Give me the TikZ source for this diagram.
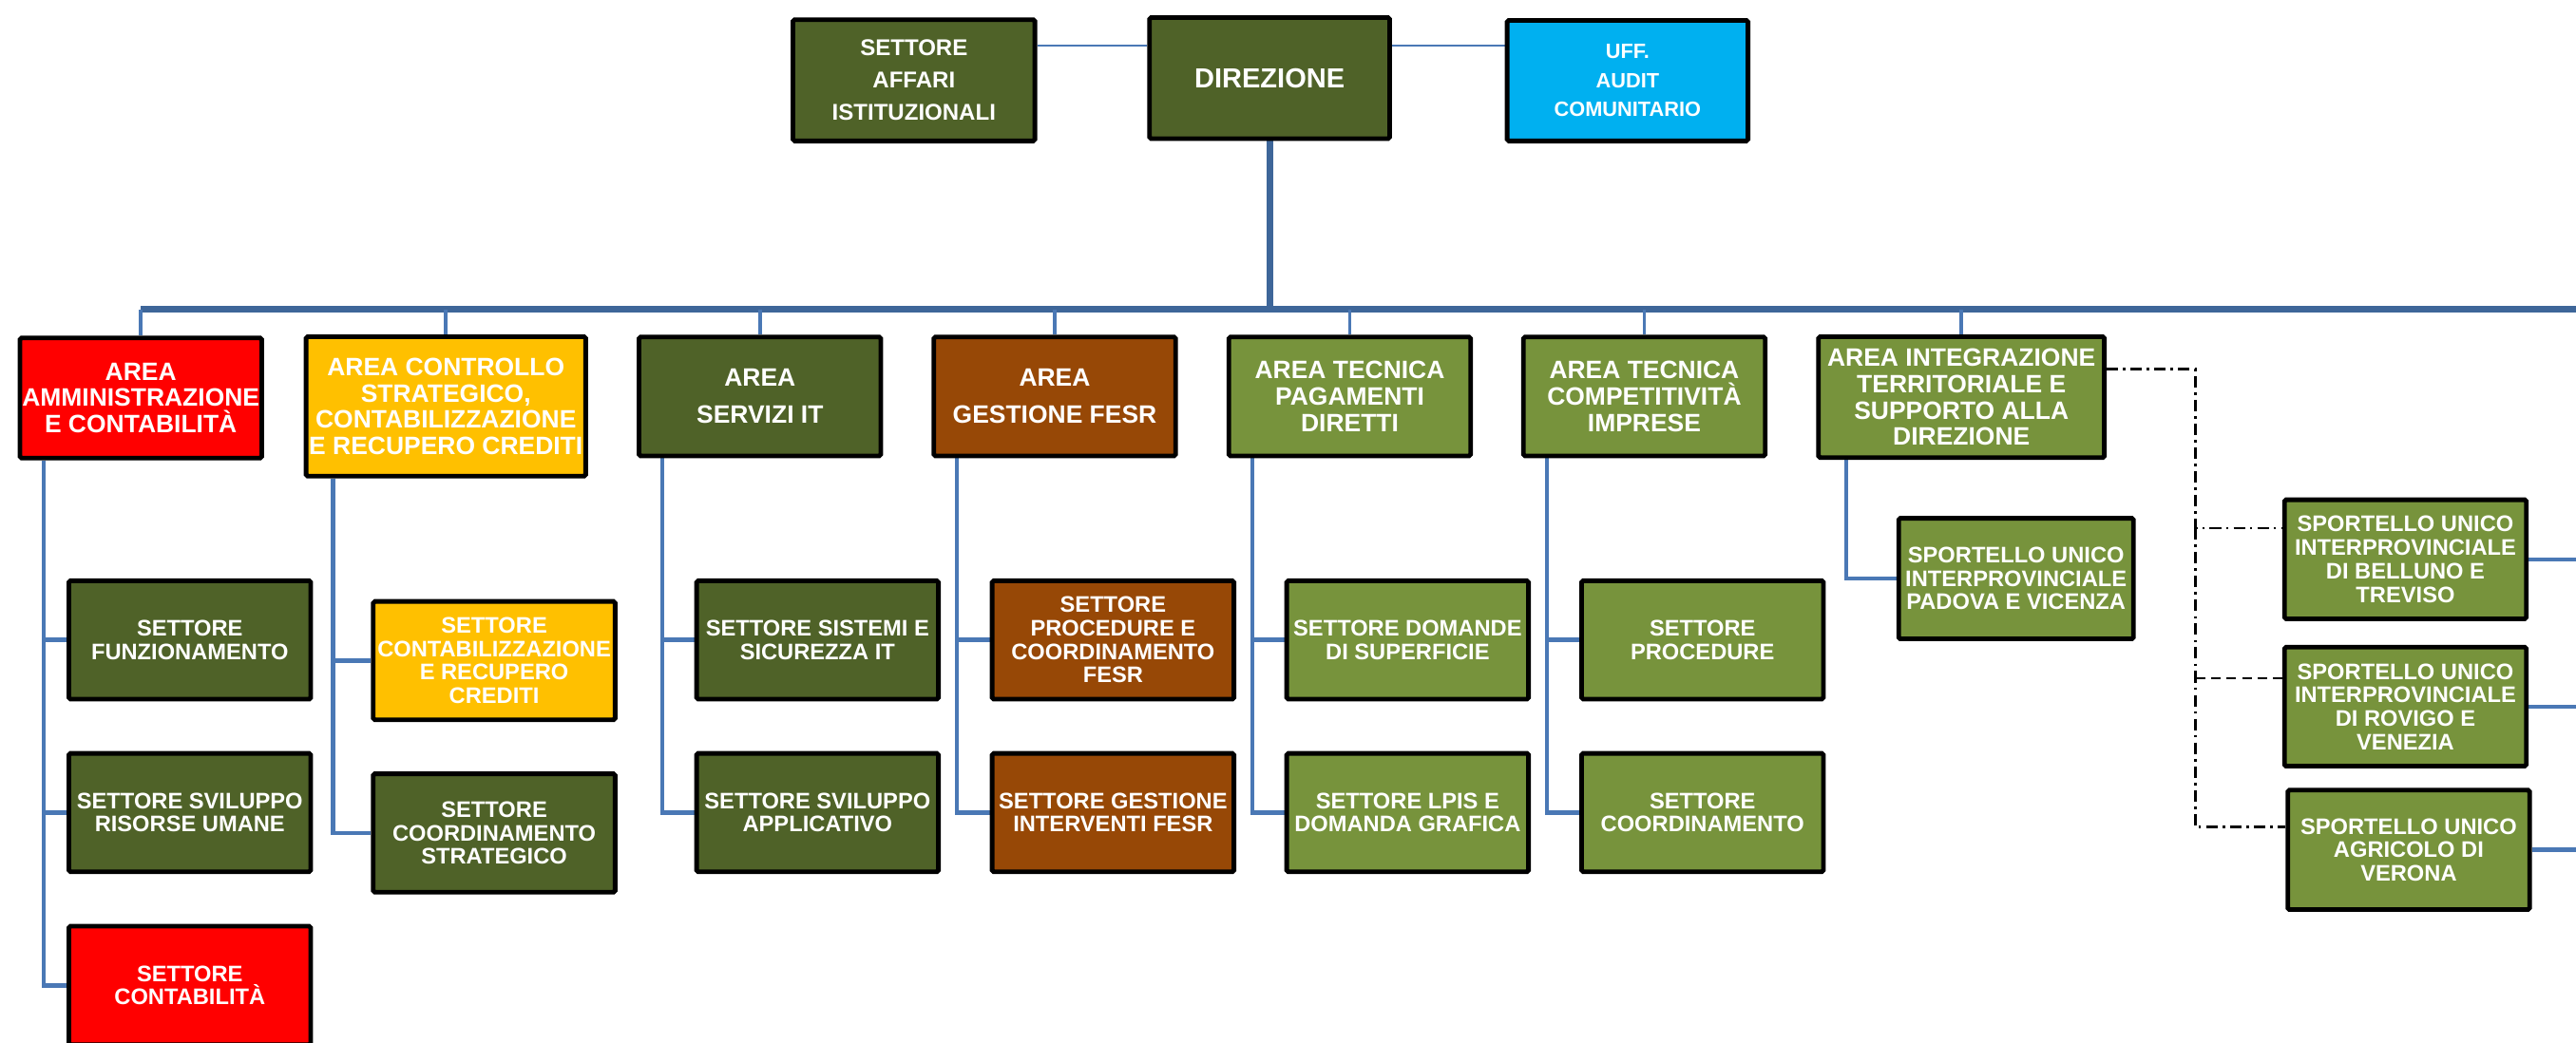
\documentclass[tikz,border=0pt]{standalone}
\usepackage{fontspec}
\setmainfont{Liberation Sans}
\usetikzlibrary{calc}
\pgfdeclarelayer{background}
\pgfsetlayers{background,main}
\definecolor{dkgreen}{HTML}{4F6228}
\definecolor{ltgreen}{HTML}{77933C}
\definecolor{redA}{HTML}{FF0000}
\definecolor{yelA}{HTML}{FFC000}
\definecolor{brnA}{HTML}{974806}
\definecolor{cyanA}{HTML}{00B0F0}
\definecolor{busc}{HTML}{3E6699}
\definecolor{brc}{HTML}{4A78B5}
\begin{document}
\begin{tikzpicture}[x=1pt,y=-1pt,
 box/.style={draw=black, line width=2.8pt, rounded corners=1pt, text=white, align=center, inner sep=0pt, minimum width=147.2pt, minimum height=72.4pt},
 afont/.style={font=\fontsize{15.3}{16.1}\selectfont\bfseries},
 sfont/.style={font=\fontsize{13.7}{14.3}\selectfont\bfseries},
 busline/.style={draw=busc, line width=4pt},
 dropline/.style={draw=brc, line width=2.2pt},
 brline/.style={draw=brc, line width=2.6pt, line join=miter},
 thinline/.style={draw=brc, line width=1.4pt},
 ddline/.style={draw=black, line width=1.5pt, dash pattern=on 7pt off 3pt on 1.5pt off 3pt},
 dashline/.style={draw=black, line width=1.5pt, dash pattern=on 6pt off 3.5pt},
 ]
\useasboundingbox (0,0) rectangle (1568,634.5);
\clip (0,0) rectangle (1568,634.5);

% top row
\node[box, fill=dkgreen, font=\fontsize{13.9}{19.7}\selectfont\bfseries, minimum height=73.8pt] (aff) at (556.3,48.9) {SETTORE\\AFFARI\\ISTITUZIONALI};
\node[box, fill=dkgreen, font=\fontsize{16.8}{20}\selectfont\bfseries, minimum width=146.2pt, minimum height=73.7pt] (dir) at (772.8,47.55) {DIREZIONE};
\node[box, fill=cyanA, font=\fontsize{12.6}{17.6}\selectfont\bfseries, minimum width=146.6pt, minimum height=73.4pt] (uff) at (990.7,49.1) {UFF.\\AUDIT\\COMUNITARIO};

% areas
\node[box, afont, fill=redA, minimum height=73.1pt] (amm) at (85.7,242.35) {AREA\\AMMINISTRAZIONE\\E CONTABILITÀ};
\node[box, afont, fill=yelA, minimum width=170.2pt, minimum height=84.9pt] (ctrl) at (271.4,247.45) {AREA CONTROLLO\\STRATEGICO,\\CONTABILIZZAZIONE\\E RECUPERO CREDITI};
\node[box, fill=dkgreen, font=\fontsize{15.3}{22.4}\selectfont\bfseries] (sit) at (462.6,241.4) {AREA\\SERVIZI IT};
\node[box, fill=brnA, font=\fontsize{15.3}{22.4}\selectfont\bfseries] (fesr) at (642,241.4) {AREA\\GESTIONE FESR};
\node[box, afont, fill=ltgreen] (pag) at (821.6,241.4) {AREA TECNICA\\PAGAMENTI\\DIRETTI};
\node[box, afont, fill=ltgreen] (comp) at (1000.85,241.4) {AREA TECNICA\\COMPETITIVITÀ\\IMPRESE};
\node[box, afont, fill=ltgreen, minimum width=174pt, minimum height=73.6pt] (integ) at (1193.9,241.8) {AREA INTEGRAZIONE\\TERRITORIALE E\\SUPPORTO ALLA\\DIREZIONE};

% settori
\node[box, sfont, fill=dkgreen, minimum height=72.1pt] (funz) at (115.55,389.65) {SETTORE\\FUNZIONAMENTO};
\node[box, sfont, fill=dkgreen, minimum height=72.1pt] (svil) at (115.55,494.75) {SETTORE SVILUPPO\\RISORSE UMANE};
\node[box, sfont, fill=redA, minimum height=72.1pt] (cont) at (115.55,600) {SETTORE\\CONTABILITÀ};
\node[box, sfont, fill=yelA, minimum height=72.1pt] (ycont) at (300.8,402.25) {SETTORE\\CONTABILIZZAZIONE\\E RECUPERO\\CREDITI};
\node[box, sfont, fill=dkgreen, minimum height=72.1pt] (ycoord) at (300.8,507.2) {SETTORE\\COORDINAMENTO\\STRATEGICO};
\node[box, sfont, fill=dkgreen, minimum height=72.1pt] (sis) at (497.6,389.65) {SETTORE SISTEMI E\\SICUREZZA IT};
\node[box, sfont, fill=dkgreen, minimum height=72.1pt] (sva) at (497.6,494.75) {SETTORE SVILUPPO\\APPLICATIVO};
\node[box, sfont, fill=brnA, minimum height=72.1pt] (proc) at (677.5,389.65) {SETTORE\\PROCEDURE E\\COORDINAMENTO\\FESR};
\node[box, sfont, fill=brnA, minimum height=72.1pt] (gint) at (677.5,494.75) {SETTORE GESTIONE\\INTERVENTI FESR};
\node[box, sfont, fill=ltgreen, minimum height=72.1pt] (dom) at (856.8,389.65) {SETTORE DOMANDE\\DI SUPERFICIE};
\node[box, sfont, fill=ltgreen, minimum height=72.1pt] (lpis) at (856.8,494.75) {SETTORE LPIS E\\DOMANDA GRAFICA};
\node[box, sfont, fill=ltgreen, minimum height=72.1pt] (sproc) at (1036.3,389.65) {SETTORE\\PROCEDURE};
\node[box, sfont, fill=ltgreen, minimum height=72.1pt] (scoord) at (1036.3,494.75) {SETTORE\\COORDINAMENTO};
\node[box, sfont, fill=ltgreen, minimum width=142.9pt, minimum height=73.4pt] (pad) at (1227.15,352.3) {SPORTELLO UNICO\\INTERPROVINCIALE\\PADOVA E VICENZA};
\node[box, sfont, fill=ltgreen, minimum height=72.5pt] (bell) at (1464.15,340.55) {SPORTELLO UNICO\\INTERPROVINCIALE\\DI BELLUNO E\\TREVISO};
\node[box, sfont, fill=ltgreen, minimum height=72.5pt] (rov) at (1464.15,430.25) {SPORTELLO UNICO\\INTERPROVINCIALE\\DI ROVIGO E\\VENEZIA};
\node[box, sfont, fill=ltgreen, minimum height=72.7pt] (ver) at (1466.15,517.45) {SPORTELLO UNICO\\AGRICOLO DI\\VERONA};

% helper coordinates
\coordinate (ty) at (0,27.6);
\coordinate (busY) at (0,188.5);
\coordinate (rE) at (1572,0);
\coordinate (k1) at (26.6,0);
\coordinate (k2) at (202.7,0);
\coordinate (k3) at (403,0);
\coordinate (k4) at (582.4,0);
\coordinate (k5) at (762.2,0);
\coordinate (k6) at (941.6,0);
\coordinate (k7) at (1123.8,0);
\coordinate (dv) at (1336.2,224.8);
\coordinate (yb) at (0,321.6);
\coordinate (yr) at (0,413);
\coordinate (yv) at (0,503.5);

\begin{pgfonlayer}{background}
\fill[white] (0,0) rectangle (1568,634.5);
\draw[thinline] (aff.east |- ty) -- (dir.west |- ty);
\draw[thinline] (dir.east |- ty) -- (uff.west |- ty);
\draw[busline] (dir.south) -- (dir.south |- busY);
\draw[busline] (amm.north |- busY) -- (rE |- busY);
\foreach \n in {amm,ctrl,sit,fesr,pag,comp,integ}
  \draw[dropline] (\n.north |- busY) -- (\n.north);
\draw[brline] (amm.south -| k1) |- (funz.west);
\draw[brline] (amm.south -| k1) |- (svil.west);
\draw[brline] (amm.south -| k1) |- (cont.west);
\draw[brline] (ctrl.south -| k2) |- (ycont.west);
\draw[brline] (ctrl.south -| k2) |- (ycoord.west);
\draw[brline] (sit.south -| k3) |- (sis.west);
\draw[brline] (sit.south -| k3) |- (sva.west);
\draw[brline] (fesr.south -| k4) |- (proc.west);
\draw[brline] (fesr.south -| k4) |- (gint.west);
\draw[brline] (pag.south -| k5) |- (dom.west);
\draw[brline] (pag.south -| k5) |- (lpis.west);
\draw[brline] (comp.south -| k6) |- (sproc.west);
\draw[brline] (comp.south -| k6) |- (scoord.west);
\draw[brline] (integ.south -| k7) |- (pad.west);
\draw[ddline] (integ.east |- dv) -- (dv) |- (bell.west |- yb);
\draw[ddline] (dv |- yb) -- (dv |- yv) -- (ver.west |- yv);
\draw[dashline] (dv |- yr) -- (rov.west |- yr);
\draw[brline] (bell.east) -- (bell.east -| rE);
\draw[brline] (rov.east) -- (rov.east -| rE);
\draw[brline] (ver.east) -- (ver.east -| rE);
\end{pgfonlayer}
\end{tikzpicture}
\end{document}
